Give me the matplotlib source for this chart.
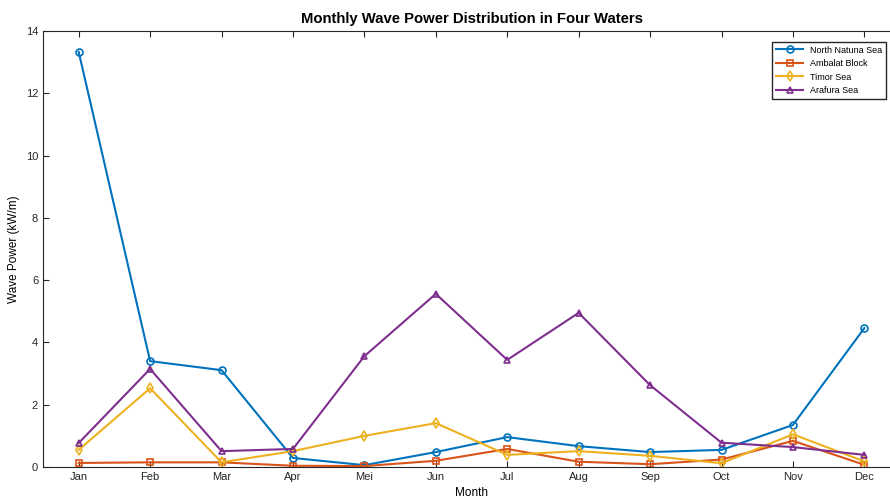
import numpy as np
import matplotlib.pyplot as plt

plt.rcParams['font.family'] = ['Liberation Sans', 'DejaVu Sans']

months = ['Jan', 'Feb', 'Mar', 'Apr', 'Mei', 'Jun', 'Jul', 'Aug', 'Sep', 'Oct', 'Nov', 'Dec']
north_natuna = [13.33, 3.40, 3.11, 0.29, 0.06, 0.48, 0.96, 0.67, 0.48, 0.55, 1.35, 4.46]
ambalat = [0.13, 0.15, 0.15, 0.04, 0.03, 0.20, 0.58, 0.17, 0.09, 0.24, 0.84, 0.07]
timor = [0.55, 2.53, 0.15, 0.51, 1.00, 1.41, 0.39, 0.51, 0.36, 0.12, 1.05, 0.18]
arafura = [0.77, 3.15, 0.51, 0.58, 3.56, 5.56, 3.44, 4.95, 2.63, 0.78, 0.64, 0.39]

x = np.arange(1, 13)

fig = plt.figure(figsize=(8.9, 4.99), dpi=100)
ax = fig.add_axes([0.0483, 0.0641, 0.963, 0.8737])

series = [
    (north_natuna, 'North Natuna Sea', (0, 0.447, 0.741), 'o'),
    (ambalat, 'Ambalat Block', (0.85, 0.325, 0.098), 's'),
    (timor, 'Timor Sea', (0.929, 0.694, 0.125), 'd'),
    (arafura, 'Arafura Sea', (0.494, 0.184, 0.556), '^'),
]
for vals, name, col, mk in series:
    ax.plot(x, vals, color=col, marker=mk, markersize=5, markerfacecolor='none',
            markeredgewidth=1.2, linewidth=1.5, label=name)

ax.set_xlim(0.5, 12.5)
ax.set_ylim(0, 14)
ax.set_xticks(x)
ax.set_xticklabels(months)
ax.set_yticks(np.arange(0, 15, 2))
ax.tick_params(direction='in', top=True, right=True, labelsize=8, colors='0.15', length=4)
for s in ax.spines.values():
    s.set_color('0.15')
    s.set_linewidth(0.8)

ax.set_title('Monthly Wave Power Distribution in Four Waters', fontsize=10.7, fontweight='bold', pad=6)
ax.set_xlabel('Month', fontsize=8.5, labelpad=4)
ax.set_ylabel('Wave Power (kW/m)', fontsize=8.5)

ax.legend(loc='upper right', bbox_to_anchor=(0.9837, 0.975), borderaxespad=0, fontsize=6.5,
          frameon=True, fancybox=False, edgecolor='0.15', framealpha=1, handlelength=3)

fig.savefig('out.png', dpi=100)
